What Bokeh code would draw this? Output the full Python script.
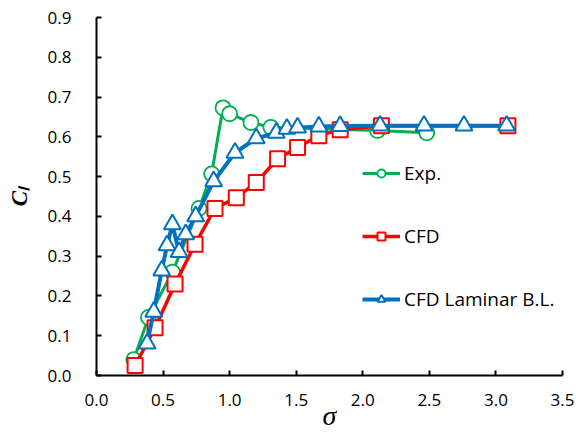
from bokeh.plotting import figure
from bokeh.models import Range1d, FixedTicker, PrintfTickFormatter, Legend, LegendItem
from bokeh.embed import file_html
from bokeh.resources import INLINE

# Data
exp_sigma = [0.28, 0.39, 0.57, 0.77, 0.865, 0.95, 1.0, 1.16, 1.31, 2.11, 2.48]
exp_cl = [0.04, 0.146, 0.26, 0.42, 0.507, 0.673, 0.658, 0.636, 0.624, 0.616, 0.61]

cfd_sigma = [0.29, 0.44, 0.59, 0.74, 0.89, 1.05, 1.20, 1.36, 1.51, 1.67, 1.83, 2.14, 3.09]
cfd_cl = [0.025, 0.12, 0.23, 0.33, 0.42, 0.447, 0.485, 0.545, 0.573, 0.603, 0.618, 0.628, 0.628]

lam_sigma = [0.38, 0.43, 0.49, 0.53, 0.57, 0.62, 0.67, 0.745, 0.88, 1.04, 1.20, 1.35,
             1.43, 1.51, 1.67, 1.83, 2.13, 2.46, 2.76, 3.08]
lam_cl = [0.08, 0.16, 0.264, 0.327, 0.38, 0.31, 0.355, 0.40, 0.488, 0.56, 0.596, 0.61,
          0.62, 0.623, 0.626, 0.627, 0.628, 0.628, 0.628, 0.628]

x_ticks = [0.0, 0.5, 1.0, 1.5, 2.0, 2.5, 3.0, 3.5]
y_ticks = [0.0, 0.1, 0.2, 0.3, 0.4, 0.5, 0.6, 0.7, 0.8, 0.9]

series_names = ["Exp.", "CFD", "CFD Laminar B.L."]
x_title = "σ"
y_title = "Cₗ"

GREEN = "#00B050"
RED = "#FF0000"
BLUE = "#0070C0"
FONT = "Open Sans"

p = figure(width=576, height=434, output_backend="svg", toolbar_location=None,
           x_range=Range1d(0, 3.5), y_range=Range1d(0, 0.9),
           min_border_left=96, min_border_right=14, min_border_top=17, min_border_bottom=59)
p.outline_line_color = None
p.xgrid.visible = False
p.ygrid.visible = False
p.background_fill_color = "white"
p.border_fill_color = "white"

for ax, ticks in ((p.xaxis[0], x_ticks), (p.yaxis[0], y_ticks)):
    ax.ticker = FixedTicker(ticks=ticks)
    ax.formatter = PrintfTickFormatter(format="%.1f")
    ax.axis_line_color = "black"
    ax.axis_line_width = 2
    ax.major_tick_line_color = "black"
    ax.major_tick_line_width = 2
    ax.major_tick_in = 5
    ax.major_tick_out = 0
    ax.minor_tick_line_color = None
    ax.major_label_text_font = FONT
    ax.major_label_text_font_size = "17px"
    ax.major_label_text_color = "black"
    ax.axis_label_text_font = "Liberation Serif"
    ax.axis_label_text_color = "black"

p.xaxis.major_label_standoff = 18
p.yaxis.major_label_standoff = 25

p.xaxis.axis_label = x_title
p.xaxis.axis_label_text_font_style = "italic"
p.xaxis.axis_label_text_font_size = "28px"
p.xaxis.axis_label_standoff = -9

p.yaxis.axis_label = y_title
p.yaxis.axis_label_text_font_style = "bold italic"
p.yaxis.axis_label_text_font_size = "23px"
p.yaxis.axis_label_standoff = 13

# Series: Exp.
g_line = p.line(exp_sigma, exp_cl, line_color=GREEN, line_width=3)
g_mark = p.scatter(exp_sigma, exp_cl, marker="circle", size=15, line_color=GREEN,
                   line_width=1.8, fill_color="white")
# Series: CFD
r_line = p.line(cfd_sigma, cfd_cl, line_color=RED, line_width=3.5)
r_mark = p.scatter(cfd_sigma, cfd_cl, marker="square", size=15, line_color=RED,
                   line_width=2, fill_color="white")
# Series: CFD Laminar B.L.
b_line = p.line(lam_sigma, lam_cl, line_color=BLUE, line_width=4)
b_mark = p.scatter(lam_sigma, lam_cl, marker="triangle", size=17, line_color=BLUE,
                   line_width=2, fill_color="white")

legend = Legend(items=[
    LegendItem(label=series_names[0], renderers=[g_line, g_mark]),
    LegendItem(label=series_names[1], renderers=[r_line, r_mark]),
    LegendItem(label=series_names[2], renderers=[b_line, b_mark]),
], location=(266, 63))
legend.border_line_color = None
legend.background_fill_alpha = 0
legend.padding = 0
legend.margin = 0
legend.spacing = 37
legend.glyph_width = 38
legend.glyph_height = 20
legend.label_height = 20
legend.label_standoff = 4
legend.label_text_font = FONT
legend.label_text_font_size = "19px"
legend.label_text_color = "black"
p.add_layout(legend)

open("out.html", "w").write(file_html(p, INLINE))
